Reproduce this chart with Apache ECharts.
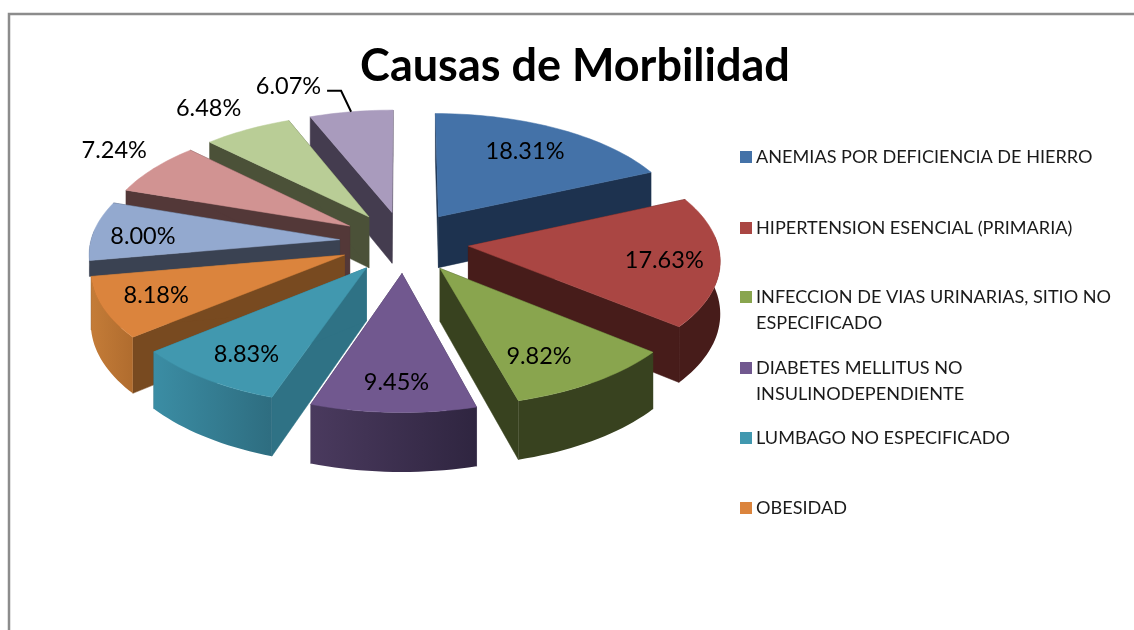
<!DOCTYPE html>
<html><head><meta charset="utf-8">
<style>html,body{margin:0;padding:0;background:#fff}#c{width:1134px;height:630px}</style>
<script src="https://cdn.jsdelivr.net/npm/echarts@6/dist/echarts.min.js"></script>
</head><body><div id="c"></div>
<script>
const titleText = 'Causas de Morbilidad';
const categories = [
  'ANEMIAS POR DEFICIENCIA DE HIERRO',
  'HIPERTENSION ESENCIAL (PRIMARIA)',
  'INFECCION DE VIAS URINARIAS, SITIO NO ESPECIFICADO',
  'DIABETES MELLITUS NO INSULINODEPENDIENTE',
  'LUMBAGO NO ESPECIFICADO',
  'OBESIDAD',
  'Causa 7', 'Causa 8', 'Causa 9', 'Causa 10'
];
const percentages = [18.31, 17.63, 9.82, 9.45, 8.83, 8.18, 8.00, 7.24, 6.48, 6.07];
const topColors  = ['#4472A8','#AA4643','#89A54E','#71588F','#4198AF','#DB843D','#93A9CF','#D19392','#B9CD96','#A99BBD'];
const faceColors = ['#1D324F','#471C1A','#38421F','#3A2D4C','#2F7285','#784A20','#3A4252','#533838','#4B5138','#443C4F'];
const wallFrom   = ['#1D324F','#471C1A','#38421F','#4A3A5E','#3B8DA4','#C47C38','#3A4252','#533838','#4B5138','#443C4F'];
const wallTo     = ['#1D324F','#471C1A','#38421F','#2F2540','#2E6D80','#B06C2E','#3A4252','#533838','#4B5138','#443C4F'];
const wallScale  = [1,1,1,1,1,1,.3,1,1,1];
const labelRadial = [.68,.78,.66,.76,.76,.80,.80,1.15,1.25,1.18];
const labelShift = [[3,-4],[0,2],[0,15],[1,6],[0,4],[3,-2],[0,4],[-12,-10],[-11,-1],[-56,-9]];
const legendTops = [144, 215, 258, 329, 425, 495];
const legendLines = {
  'INFECCION DE VIAS URINARIAS, SITIO NO ESPECIFICADO': '\nINFECCION DE VIAS URINARIAS, SITIO NO\nESPECIFICADO',
  'DIABETES MELLITUS NO INSULINODEPENDIENTE': '\nDIABETES MELLITUS NO\nINSULINODEPENDIENTE'
};

// Perspective projection of the tilted exploded disc
const P = {cx:404, cy:242, R:249, tilt:.475, k:.10, h:52, explode:.26};
const total = percentages.reduce((a,b)=>a+b,0);
const slices = []; let acc = 0;
percentages.forEach((v,i)=>{ const a0=acc/total*2*Math.PI; acc+=v; const a1=acc/total*2*Math.PI; slices.push({a0,a1,mid:(a0+a1)/2,d:wallScale[i]}); });
function proj(u,v,down){ const s=1/(1+P.k*v); return [P.cx+P.R*u*s, P.cy-P.R*P.tilt*v*s+down*P.h*s]; }
function pt(sl,r,a,down){
  const eu=P.explode*Math.sin(sl.mid), ev=P.explode*Math.cos(sl.mid);
  return proj(eu+r*Math.sin(a), ev+r*Math.cos(a), down?sl.d:0);
}
function arc(sl,a0,a1,down){ const n=Math.max(2,Math.ceil((a1-a0)/.03)),o=[]; for(let i=0;i<=n;i++) o.push(pt(sl,1,a0+(a1-a0)*i/n,down)); return o; }
function poly(points,fill){ return {type:'polygon',shape:{points},style:{fill,stroke:fill,lineWidth:.5}}; }
function face(sl,a,fill){ return poly([pt(sl,0,0,false),pt(sl,1,a,false),pt(sl,1,a,true),pt(sl,0,0,true)],fill); }
const FRONT0=Math.PI*85/180, FRONT1=Math.PI*275/180;

function renderSlice(i){
  const sl=slices[i], kids=[];
  kids.push(face(sl,sl.a0,faceColors[i]));
  kids.push(face(sl,sl.a1,faceColors[i]));
  const w0=Math.max(sl.a0,FRONT0), w1=Math.min(sl.a1,FRONT1);
  if(w1>w0){
    const up=arc(sl,w0,w1,false), dn=arc(sl,w0,w1,true).reverse();
    kids.push({type:'polygon',shape:{points:up.concat(dn)},style:{
      fill:new echarts.graphic.LinearGradient(0,0,1,0,[{offset:0,color:wallFrom[i]},{offset:1,color:wallTo[i]}])}});
  }
  kids.push(poly([pt(sl,0,0,false)].concat(arc(sl,sl.a0,sl.a1,false)),topColors[i]));
  return {type:'group',children:kids};
}
function renderLabels(params){
  const i=params.dataIndex, sl=slices[i];
  const p=pt(sl,labelRadial[i],sl.mid,false);
  const kids=[];
  const x=p[0]+labelShift[i][0], y=p[1]+labelShift[i][1];
  if(i===9){
    const e=pt(sl,1,sl.mid,false);
    const knee=[e[0]-10,e[1]-21];
    kids.push({type:'polyline',shape:{points:[e,knee,[knee[0]-14,knee[1]]]},style:{stroke:'#000',lineWidth:2,fill:'none'}});
  }
  kids.push({type:'text',style:{x,y,text:percentages[i].toFixed(2)+'%',fill:'#000',font:'23.5px Lato',align:'center',verticalAlign:'middle'}});
  return {type:'group',children:kids};
}

const depth = slices.map(s=>Math.cos(s.mid));
const series = categories.map((name,i)=>({
  type:'custom',name,coordinateSystem:'none',data:[[percentages[i]]],silent:true,animation:false,
  z:Math.round(10-depth[i]*5)+2,
  itemStyle:{color:topColors[i]},
  renderItem:()=>renderSlice(i)
}));
series.push({type:'custom',name:'etiquetas',coordinateSystem:'none',data:percentages.map(v=>[v]),silent:true,animation:false,z:50,renderItem:renderLabels});

const chart=echarts.init(document.getElementById('c'),null,{renderer:'canvas'});
chart.setOption({
  animation:false,
  title:{text:titleText,left:570,top:39,textAlign:'center',textStyle:{fontFamily:'Lato',fontSize:45,fontWeight:'bold',color:'#000'}},
  graphic:[{type:'rect',silent:true,z:0,shape:{x:9,y:14,width:1200,height:700},style:{fill:'none',stroke:'#8c8c8c',lineWidth:2.5}}],
  legend:categories.slice(0,6).map((name,i)=>({
    data:[name],left:740,top:legendTops[i],padding:0,orient:'vertical',selectedMode:false,icon:'rect',itemWidth:12,itemHeight:12,itemGap:0,
    formatter:n=>legendLines[n]||n,
    textStyle:{fontFamily:'Lato',fontSize:18.1,color:'#1a1a1a',lineHeight:26,padding:[0,0,0,-1]}
  })),
  series
});
</script></body></html>
